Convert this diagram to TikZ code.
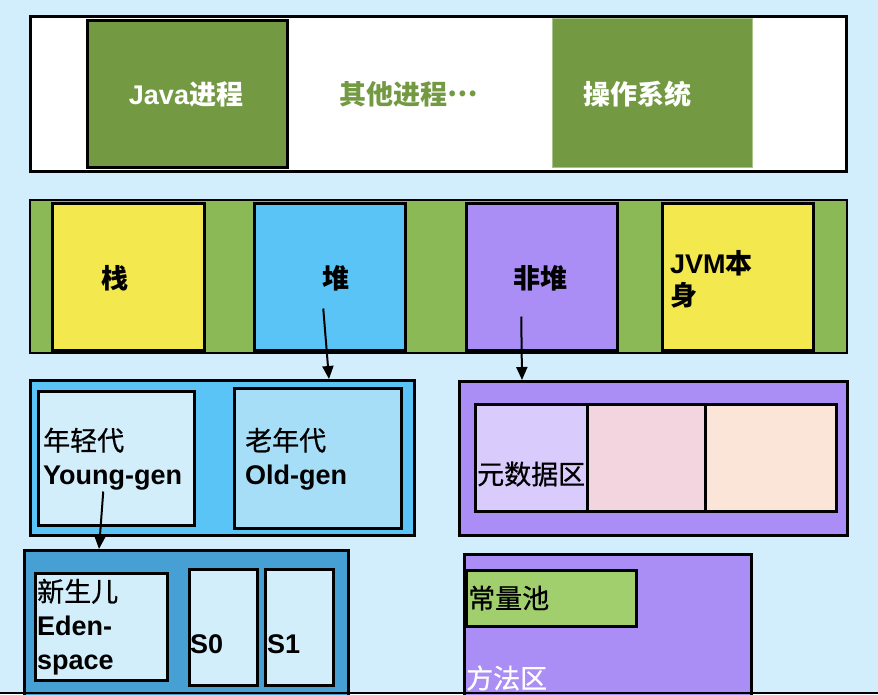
\documentclass[tikz,border=0pt]{standalone}
\usepackage{fontspec}
\setmainfont{Liberation Sans}
\newfontfamily\cjk{Noto Sans CJK SC}
\newfontfamily\cjkm[FakeBold=0.6]{Noto Sans CJK SC}
\usetikzlibrary{arrows.meta,calc}
\definecolor{bg}{HTML}{D2EEFC}
\definecolor{dkgreen}{HTML}{739A43}
\definecolor{bandgreen}{HTML}{8BB956}
\definecolor{yel}{HTML}{F3E94F}
\definecolor{heapblue}{HTML}{5AC4F7}
\definecolor{purp}{HTML}{AB8EF5}
\definecolor{ltblue}{HTML}{D3EEFB}
\definecolor{oldblue}{HTML}{A6DEF8}
\definecolor{newblue}{HTML}{47A0D3}
\definecolor{metap}{HTML}{D9CCFC}
\definecolor{pinkc}{HTML}{F3D5DF}
\definecolor{peach}{HTML}{FBE4D8}
\definecolor{poolg}{HTML}{A2CF6E}
\definecolor{osedge}{HTML}{A8C48A}
\tikzset{
  box/.style={draw=black, line width=2.5pt, inner sep=0pt, anchor=north west},
  txt/.style={inner sep=0pt, anchor=west, align=left, font=\fontsize{27}{34}\selectfont},
  ctxt/.style={inner sep=0pt, font=\fontsize{27}{34}\selectfont\bfseries},
  arr/.style={-{Triangle[length=13pt,width=11pt]}, line width=2pt}
}
\begin{document}
\begin{tikzpicture}[x=1pt,y=-1pt]
\useasboundingbox (0,0) rectangle (878,694);
\fill[bg] (0,0) rectangle (878,694);
% top row
\node[box, line width=3.5pt, fill=white, minimum width=816pt, minimum height=155pt] (top) at (28.5,14.5) {};
\node[box, fill=dkgreen, minimum width=200pt, minimum height=147pt] (java) at (86,19) {};
\node[box, draw=osedge, line width=1pt, fill=dkgreen, minimum width=200pt, minimum height=149pt] (os) at (551.5,17.5) {};
\node[ctxt, text=white] (tjava) at (186,94) {Java\cjk 进程};
\node[ctxt, text=dkgreen] (tother) at (409,94) {\cjk 其他进程\raisebox{0.3em}{…}};
\node[ctxt, text=white] (tos) at (637,94) {\cjk 操作系统};
% second row
\node[box, fill=bandgreen, minimum width=817pt, minimum height=153pt] (band) at (28.5,198.5) {};
\node[box, fill=yel, minimum width=152pt, minimum height=147pt] (stack) at (51,202) {};
\node[box, fill=heapblue, minimum width=151pt, minimum height=147pt] (heap) at (253,202) {};
\node[box, fill=purp, minimum width=151pt, minimum height=147pt] (nonheap) at (465,202) {};
\node[box, fill=yel, minimum width=151pt, minimum height=147pt] (jvm) at (661,202) {};
\node[ctxt] (tstack) at (115,278) {\cjk 栈};
\node[ctxt] (theap) at (336,278) {\cjk 堆};
\node[ctxt] (tnonheap) at (540,278) {\cjk 非堆};
\node[txt, font=\fontsize{27}{32}\selectfont\bfseries] (tjvm) at (670,279) {JVM{\cjk 本}\\{\cjk 身}};
% heap
\node[box, fill=heapblue, minimum width=384pt, minimum height=155pt] (heapbox) at (29,379) {};
\node[box, fill=ltblue, minimum width=156pt, minimum height=134pt] (young) at (37,390) {};
\node[box, fill=oldblue, minimum width=167pt, minimum height=140pt] (old) at (233,387) {};
\node[txt] (tyoung) at (43,459) {{\cjkm 年轻代}\\\textbf{Young-gen}};
\node[txt] (told) at (245,459) {{\cjkm 老年代}\\\textbf{Old-gen}};
% new generation
\node[box, fill=newblue, minimum width=324pt, minimum height=160pt] (newbox) at (23,549) {};
\node[box, fill=ltblue, minimum width=132pt, minimum height=107pt] (eden) at (34,572) {};
\node[box, fill=ltblue, minimum width=68pt, minimum height=116pt] (s0) at (188,568) {};
\node[box, fill=ltblue, minimum width=68pt, minimum height=116pt] (s1) at (264,568) {};
\node[txt] (teden) at (37,627) {{\cjkm 新生儿}\\\textbf{Eden-}\\\textbf{space}};
\node[txt, font=\fontsize{27}{34}\selectfont\bfseries] (ts0) at (190,644) {S0};
\node[txt, font=\fontsize{27}{34}\selectfont\bfseries] (ts1) at (267,644) {S1};
% non-heap
\node[box, fill=purp, minimum width=388pt, minimum height=154pt] (nhbox) at (458,380) {};
\node[box, fill=metap, minimum width=112pt, minimum height=107pt] (meta) at (474,403) {};
\node[box, fill=pinkc, minimum width=118pt, minimum height=107pt] (pinkbox) at (586,403) {};
\node[box, fill=peach, minimum width=131pt, minimum height=107pt] (peachbox) at (704,403) {};
\node[txt] (tmeta) at (477,474) {\cjkm 元数据区};
% method area
\node[box, fill=purp, minimum width=287pt, minimum height=160pt] (method) at (463,553) {};
\node[box, fill=poolg, minimum width=170pt, minimum height=56pt] (pool) at (465,569) {};
\node[txt] (tpool) at (468,598) {\cjkm 常量池};
\node[txt, text=white] (tmethod) at (466,678) {\cjkm 方法区};
% bottom line
\draw[line width=2pt] (0,693) -- (878,693);
% arrows
\draw[arr] ($(heap.south)+(-6.5,-43)$) -- ($(heapbox.north west)+(300,0)$);
\draw[arr] ($(nonheap.south)+(-20.5,-35)$) -- ($(nhbox.north west)+(64,0)$);
\draw[arr] ($(young.south)+(-13,-35)$) -- ($(newbox.north west)+(76,0)$);
\end{tikzpicture}
\end{document}
